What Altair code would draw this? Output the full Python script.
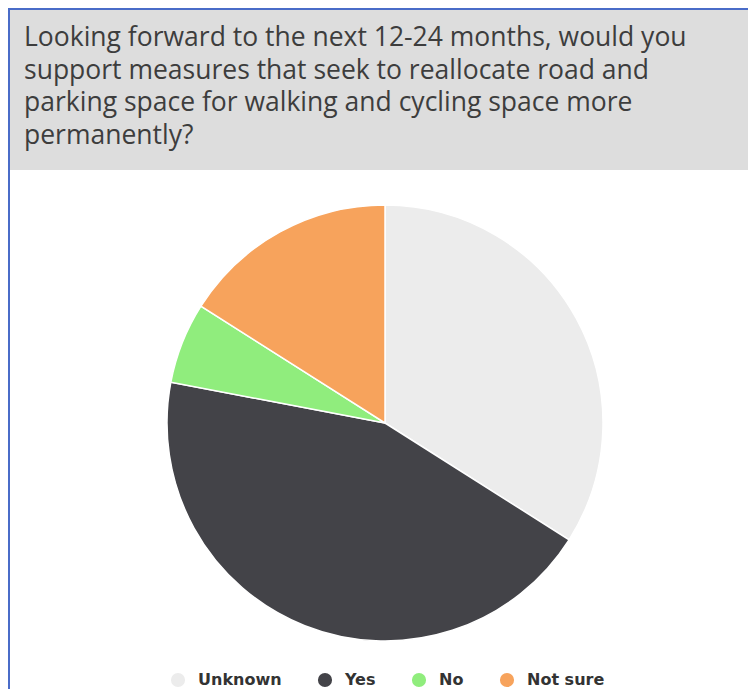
import altair as alt
import pandas as pd

categories = ["Unknown", "Yes", "No", "Not sure"]
values = [34, 44, 6, 16]
colors = ["#ececec", "#434348", "#90ed7d", "#f7a35c"]
title_lines = [
    "Looking forward to the next 12-24 months, would you",
    "support measures that seek to reallocate road and",
    "parking space for walking and cycling space more",
    "permanently?",
]

W, H = 740, 681

df = pd.DataFrame({"answer": categories, "value": values, "order": list(range(len(categories)))})
tdf = pd.DataFrame({"line": title_lines, "i": list(range(len(title_lines)))})

base = alt.Chart(pd.DataFrame({"a": [0]}))

header = base.mark_rect(color="#dddddd").encode(
    x=alt.value(2), x2=alt.value(W), y=alt.value(2), y2=alt.value(162)
)
left_border = base.mark_rect(color="#4a6cc8").encode(
    x=alt.value(0), x2=alt.value(2), y=alt.value(0), y2=alt.value(H)
)
top_border = base.mark_rect(color="#4a6cc8").encode(
    x=alt.value(0), x2=alt.value(W), y=alt.value(0), y2=alt.value(2)
)

title = alt.Chart(tdf).mark_text(
    align="left", baseline="alphabetic", font="Open Sans", fontSize=26.5, color="#3d3d3d"
).encode(
    x=alt.value(16),
    y=alt.Y("i:Q", axis=None, scale=alt.Scale(domain=[0, 3], range=[38, 135.5])),
    text="line:N",
)

pie = alt.Chart(df).mark_arc(outerRadius=218, stroke="#ffffff", strokeWidth=1.5).encode(
    theta=alt.Theta("value:Q", stack=True),
    order=alt.Order("order:Q"),
    color=alt.Color(
        "answer:N",
        scale=alt.Scale(domain=categories, range=colors),
        sort=categories,
        legend=alt.Legend(
            title=None,
            orient="none",
            legendX=162,
            legendY=664,
            direction="horizontal",
            symbolType="circle",
            symbolSize=200,
            symbolStrokeWidth=0,
            labelFont="DejaVu Sans",
            labelFontSize=16,
            labelFontWeight="bold",
            labelColor="#333333",
            labelOffset=12,
            columnPadding=35,
        ),
    ),
    x=alt.value(377),
    y=alt.value(415),
)

chart = alt.layer(header, left_border, top_border, title, pie).properties(
    width=W, height=H, padding=0, autosize=alt.AutoSizeParams(type="none")
).configure_view(stroke=None).resolve_scale(y="independent")

chart.save("out.html", embed_options={"renderer": "svg", "actions": False})
